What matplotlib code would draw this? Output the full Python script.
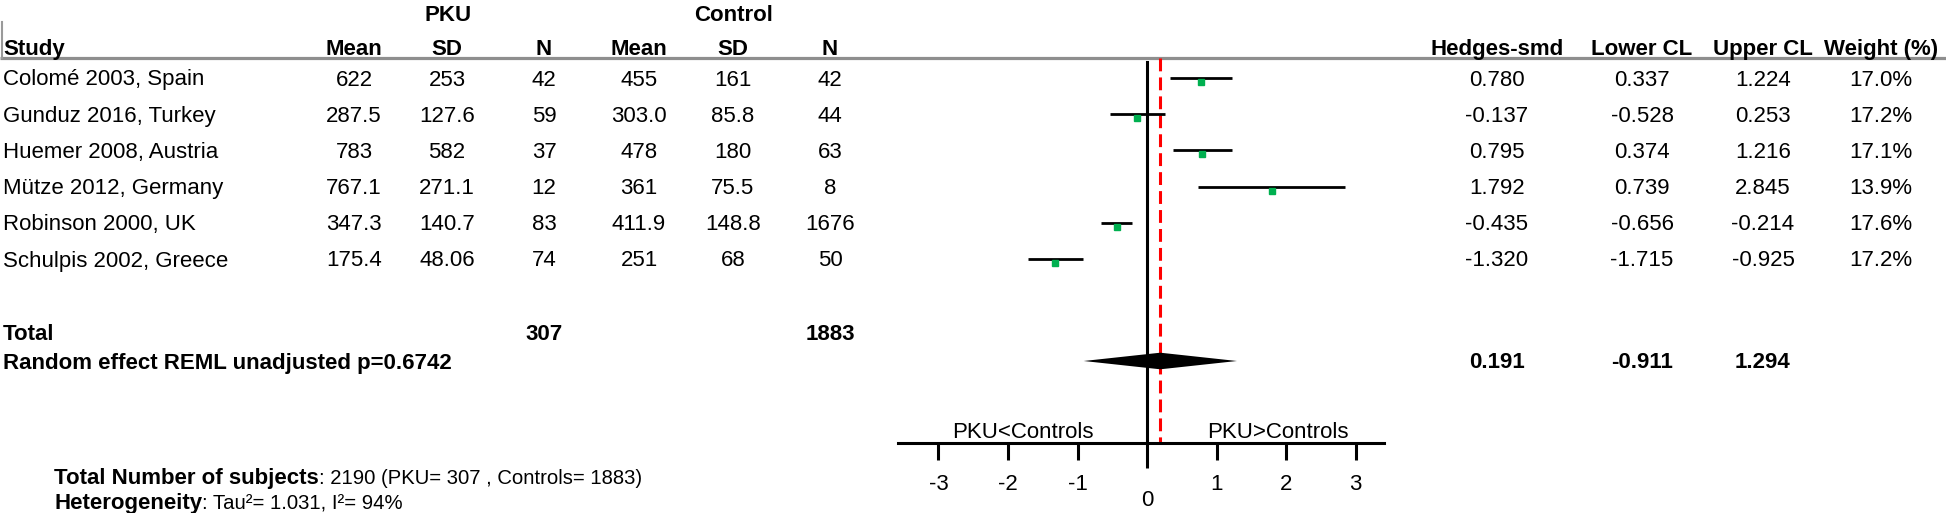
import matplotlib.pyplot as plt
import matplotlib.transforms as mtransforms

plt.rcParams['font.family'] = ['Liberation Sans', 'DejaVu Sans']
plt.rcParams['axes.unicode_minus'] = False

# -- data -- #
studies = ['Colomé 2003, Spain', 'Gunduz 2016, Turkey', 'Huemer 2008, Austria',
           'Mütze 2012, Germany', 'Robinson 2000, UK', 'Schulpis 2002, Greece']
pku_mean = ['622', '287.5', '783', '767.1', '347.3', '175.4']
pku_sd = ['253', '127.6', '582', '271.1', '140.7', '48.06']
pku_n = [42, 59, 37, 12, 83, 74]
ctl_mean = ['455', '303.0', '478', '361', '411.9', '251']
ctl_sd = ['161', '85.8', '180', '75.5', '148.8', '68']
ctl_n = [42, 44, 63, 8, 1676, 50]
smd = [0.780, -0.137, 0.795, 1.792, -0.435, -1.320]
lower = [0.337, -0.528, 0.374, 0.739, -0.656, -1.715]
upper = [1.224, 0.253, 1.216, 2.845, -0.214, -0.925]
weight = [17.0, 17.2, 17.1, 13.9, 17.6, 17.2]

pooled = 0.191
pooled_lo = -0.911
pooled_hi = 1.294
p_value = 0.6742
tau2 = 1.031
i2 = 94

W, H = 1946, 513
fs = 16
fig = plt.figure(figsize=(W / 100, H / 100), dpi=100)

# background axes in pixel units for the table text
bg = fig.add_axes([0, 0, 1, 1])
bg.set_xlim(0, W)
bg.set_ylim(H, 0)
bg.axis('off')

row_y = [78 + 36.2 * i for i in range(len(studies))]
total_y = 332
pooled_y = 362
base = 7.5  # centre -> baseline

# header
bg.text(448, 21, 'PKU', ha='center', va='baseline', fontsize=fs, fontweight='bold')
bg.text(734, 21, 'Control', ha='center', va='baseline', fontsize=fs, fontweight='bold')
bg.text(3, 55, 'Study', ha='left', va='baseline', fontsize=fs, fontweight='bold')
col_x = [354, 447, 544, 639, 733, 830, 1497, 1642, 1763, 1881]
col_names = ['Mean', 'SD', 'N', 'Mean', 'SD', 'N',
             'Hedges-smd', 'Lower CL', 'Upper CL', 'Weight (%)']
for x, name in zip(col_x, col_names):
    bg.text(x, 55, name, ha='center', va='baseline', fontsize=fs, fontweight='bold')
bg.plot([0, W], [58, 58], color='#8e8e8e', lw=2.3, solid_capstyle='butt')
bg.plot([1.5, 1.5], [22, 58], color='#9a9a9a', lw=1.5)

# study rows
for i, y in enumerate(row_y):
    cells = [pku_mean[i], pku_sd[i], str(pku_n[i]), ctl_mean[i], ctl_sd[i], str(ctl_n[i]),
             '{:.3f}'.format(smd[i]), '{:.3f}'.format(lower[i]),
             '{:.3f}'.format(upper[i]), '{:.1f}%'.format(weight[i])]
    bg.text(3, y + base, studies[i], ha='left', va='baseline', fontsize=fs)
    for x, c in zip(col_x, cells):
        bg.text(x, y + base, c, ha='center', va='baseline', fontsize=fs)

# totals
bg.text(3, total_y + base, 'Total', ha='left', va='baseline', fontsize=fs, fontweight='bold')
bg.text(col_x[2], total_y + base, str(sum(pku_n)), ha='center', va='baseline',
        fontsize=fs, fontweight='bold')
bg.text(col_x[5], total_y + base, str(sum(ctl_n)), ha='center', va='baseline',
        fontsize=fs, fontweight='bold')
bg.text(3, pooled_y + base, 'Random effect REML unadjusted p={}'.format(p_value),
        ha='left', va='baseline', fontsize=fs, fontweight='bold')
for x, v in zip(col_x[6:9], [pooled, pooled_lo, pooled_hi]):
    bg.text(x, pooled_y + base - 1, '{:.3f}'.format(v), ha='center', va='baseline',
            fontsize=fs, fontweight='bold')

# footer (plain part is set tighter in the original)
fs_small = 14.6
t1 = bg.text(54, 484, 'Total Number of subjects', ha='left', va='baseline',
             fontsize=fs, fontweight='bold')
bg.annotate(': {} (PKU= {} , Controls= {})'.format(sum(pku_n) + sum(ctl_n), sum(pku_n), sum(ctl_n)),
            xy=(1, 484), xycoords=(t1, 'data'), ha='left', va='baseline', fontsize=fs_small)
t2 = bg.text(54, 509, 'Heterogeneity', ha='left', va='baseline',
             fontsize=fs, fontweight='bold')
bg.annotate(': Tau\u00b2= {}, I\u00b2= {}%'.format(tau2, i2),
            xy=(1, 509), xycoords=(t2, 'data'), ha='left', va='baseline', fontsize=fs_small)

# forest plot axes: x in effect size, y in pixels
x0, x1 = 880, 1420
ppu = 69.5
zero_px = 1147
ax = fig.add_axes([x0 / W, 0, (x1 - x0) / W, 1])
ax.set_xlim((x0 - zero_px) / ppu, (x1 - zero_px) / ppu)
ax.set_ylim(H, 0)
ax.patch.set_visible(False)
axis_y = 443

for s in ['top', 'left', 'right']:
    ax.spines[s].set_visible(False)
ax.spines['bottom'].set_position(('data', axis_y))
ax.spines['bottom'].set_bounds(-3.58, 3.41)
ax.spines['bottom'].set_linewidth(2.2)
ax.set_yticks([])
ax.set_xticks([-3, -2, -1, 1, 2, 3])
ax.set_xticks([0], minor=True)
ax.set_xticklabels(['0'], minor=True)
ax.tick_params(axis='x', which='major', direction='out', length=12, width=2.2,
               pad=10, labelsize=fs)
ax.tick_params(axis='x', which='minor', direction='out', length=18, width=2.2,
               pad=16, labelsize=fs)

ax.plot([0, 0], [62, axis_y], color='black', lw=2.2)
ax.plot([pooled, pooled], [58, axis_y], color='#ff0000', lw=2.2, dashes=(4.2, 2.0))

ax.hlines(row_y, lower, upper, color='black', lw=2.0)
dot_tr = mtransforms.offset_copy(ax.transData, fig=fig, x=0, y=-4, units='dots')
ax.plot(smd, row_y, 's', color='#00b050', ms=4.3, mec='#00b050', transform=dot_tr,
        zorder=3)

hh = 8.3
ax.fill([pooled_lo, pooled, pooled_hi, pooled],
        [pooled_y - 1, pooled_y - 1 - hh, pooled_y - 1, pooled_y - 1 + hh],
        color='black', lw=0, zorder=3)

ax.text(-1.78, 437.5, 'PKU<Controls', ha='center', va='baseline', fontsize=fs)
ax.text(1.88, 437.5, 'PKU>Controls', ha='center', va='baseline', fontsize=fs)

fig.savefig('out.png', dpi=100)
